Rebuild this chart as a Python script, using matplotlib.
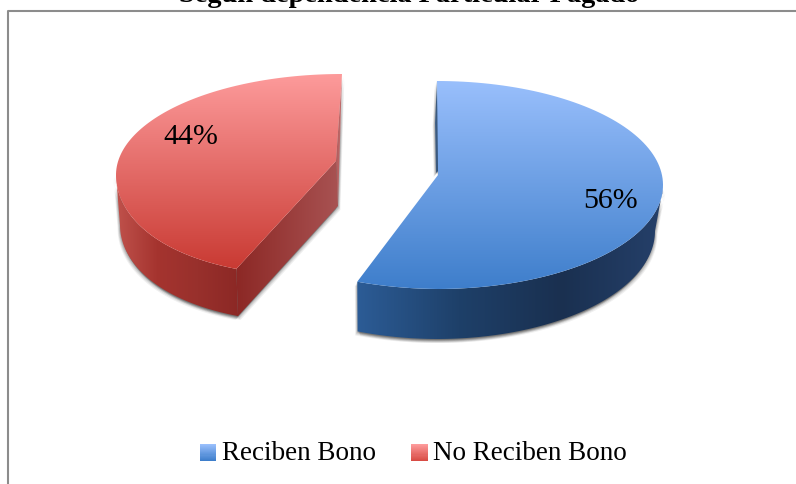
import numpy as np
import matplotlib
matplotlib.use("Agg")
import matplotlib.pyplot as plt
from matplotlib.colors import LinearSegmentedColormap
from matplotlib.legend_handler import HandlerBase
from matplotlib.patches import Polygon, Rectangle

title = "Según dependencia Particular Pagado"
labels = ["Reciben Bono", "No Reciben Bono"]
shares = [56, 44]
share_text = ["56%", "44%"]

plt.rcParams["font.family"] = ["Liberation Serif", "DejaVu Serif"]

# gradientes de cada fatia
top_colors = [["#99bffc", "#3e7ecb"], ["#fd9b9b", "#c93a33"]]
wall_colors = [["#2c5c96", "#1e4069", "#1a3050", "#25406a"],
               ["#c0524c", "#a5342f", "#98302c", "#8c2825"]]
cut_colors = [["#8c2825", "#a85252"]]

# geometria em pixels da imagem
tops = [dict(cx=437, cy=186, rx=226, ry=104, skew=-4, ax=438, ay=176),
        dict(cx=342, cy=176, rx=226, ry=101, skew=26, ax=336, ay=162)]
bottoms = [dict(cx=437, cy=232, rx=218, ry=108, skew=-1),
           dict(cx=341, cy=226, rx=221, ry=98, skew=25)]
label_spots = [(0.78, 0), (0.68, -26)]


def rim(g, a1, a2, n=120):
    # angulo a partir das 12h, sentido horario
    t = np.radians(np.linspace(a1, a2, n))
    x = g["cx"] + g["rx"] * np.sin(t)
    y = g["cy"] - g["ry"] * np.cos(t)
    x = x - g["skew"] * np.clip(-np.cos(t), 0, 1) ** 2 * (np.sin(t) < 0)
    return x, y


def fill_gradient(ax, pts, colors, vertical=True, z=2):
    pts = np.array(pts)
    cmap = LinearSegmentedColormap.from_list("g", colors)
    grad = np.linspace(0, 1, 256)
    grad = grad.reshape(-1, 1) if vertical else grad.reshape(1, -1)
    ext = (pts[:, 0].min(), pts[:, 0].max(), pts[:, 1].max(), pts[:, 1].min())
    im = ax.imshow(grad, cmap=cmap, extent=ext, aspect="auto", zorder=z, interpolation="bilinear")
    patch = Polygon(pts, closed=True, transform=ax.transData, fc="none", ec="none")
    ax.add_patch(patch)
    im.set_clip_path(patch)


def shadow(ax, pts):
    pts = np.array(pts)
    for off, al in [(4, 0.06), (3, 0.08), (2, 0.1), (1, 0.12)]:
        ax.add_patch(Polygon(pts + [off * 0.6, off], closed=True, fc="#000000", ec="none", alpha=al, zorder=1))
        ax.add_patch(Polygon(pts + [-off * 0.6, off], closed=True, fc="#000000", ec="none", alpha=al, zorder=1))


class GradientSwatch(HandlerBase):
    def create_artists(self, legend, orig, xd, yd, w, h, fontsize, trans):
        c = LinearSegmentedColormap.from_list("s", orig.get_gid().split(","))
        out = []
        for i in range(16):
            out.append(Rectangle((xd, yd + h * (1 - (i + 1) / 16)), h, h / 16 + 0.2, fc=c(i / 15), ec="none", transform=trans))
        return out


fig = plt.figure(figsize=(7.96, 4.85), dpi=100)
ax = fig.add_axes([0, 0, 1, 1])
ax.axis("off")

# moldura cortada
ax.plot([796, 8, 8], [12, 12, 485], color="#8c8c8c", lw=1.5, zorder=1)
ax.text(409, 1.5, title, ha="center", va="baseline", fontsize=20.4, fontweight="bold", color="black")

angles = np.cumsum([0] + shares) * 3.6

# fatia azul
g, b = tops[0], bottoms[0]
a1, a2 = angles[0], angles[1]
tx, ty = rim(g, a1, a2)
bx, by = rim(b, 90, a2)
wall_t = [(x, y) for x, y in zip(*rim(g, 92, a2))]
wall = wall_t + [(x, y) for x, y in zip(bx[::-1], by[::-1])]
shadow(ax, wall)
sliver = [(tx[0], ty[0]), (g["ax"] + 2, g["ay"] - 6), (g["ax"] - 2, g["ay"] - 2), (tx[0] - 2, ty[0] + 42)]
shadow(ax, sliver)
fill_gradient(ax, sliver, ["#4a6a90", "#1c3555"], vertical=False)
fill_gradient(ax, wall, wall_colors[0], vertical=False)
top = list(zip(tx, ty)) + [(g["ax"], g["ay"])]
fill_gradient(ax, top, top_colors[0], z=3)

# fatia vermelha
g, b = tops[1], bottoms[1]
a1, a2 = angles[1], angles[2]
tx, ty = rim(g, a1, a2)
bx, by = rim(b, a1, 270)
wall = [(x, y) for x, y in zip(*rim(g, a1, 270))] + [(x, y) for x, y in zip(bx[::-1], by[::-1])]
cut = [(tx[0], ty[0]), (g["ax"], g["ay"]), (g["ax"] + 2, g["ay"] + 45), (bx[0], by[0])]
back = [(tx[-1], ty[-1]), (g["ax"] + 2, g["ay"] + 45), (g["ax"], g["ay"])]
shadow(ax, wall)
shadow(ax, cut)
shadow(ax, back)
fill_gradient(ax, back, ["#b05a5a", "#c47070"], vertical=False)
fill_gradient(ax, wall, wall_colors[1], vertical=False)
fill_gradient(ax, cut, cut_colors[0], vertical=False)
top = list(zip(tx, ty)) + [(g["ax"], g["ay"])]
fill_gradient(ax, top, top_colors[1], z=3)

# rotulos de porcentagem
mids = (angles[:-1] + angles[1:]) / 2
for i in range(2):
    r, dy = label_spots[i]
    t = np.radians(mids[i])
    ax.text(tops[i]["cx"] + tops[i]["rx"] * r * np.sin(t),
            tops[i]["cy"] - tops[i]["ry"] * r * np.cos(t) + dy,
            share_text[i], ha="center", va="center", fontsize=21.5, color="black", zorder=5)

handles = []
for i in range(2):
    h = Rectangle((0, 0), 1, 1, label=labels[i])
    h.set_gid(",".join(["#99bffc", "#3e7ecb"] if i == 0 else ["#fd9b9b", "#d84c45"]))
    handles.append(h)
ax.legend(handles=handles, loc="center", bbox_to_anchor=(0.5195, 0.064), ncol=2, frameon=False,
          fontsize=19.5, handler_map={Rectangle: GradientSwatch()}, handlelength=0.55,
          handleheight=0.55, handletextpad=0.26, columnspacing=1.3)

ax.set_xlim(0, 796)
ax.set_ylim(485, 0)
fig.savefig("out.png", dpi=100)
